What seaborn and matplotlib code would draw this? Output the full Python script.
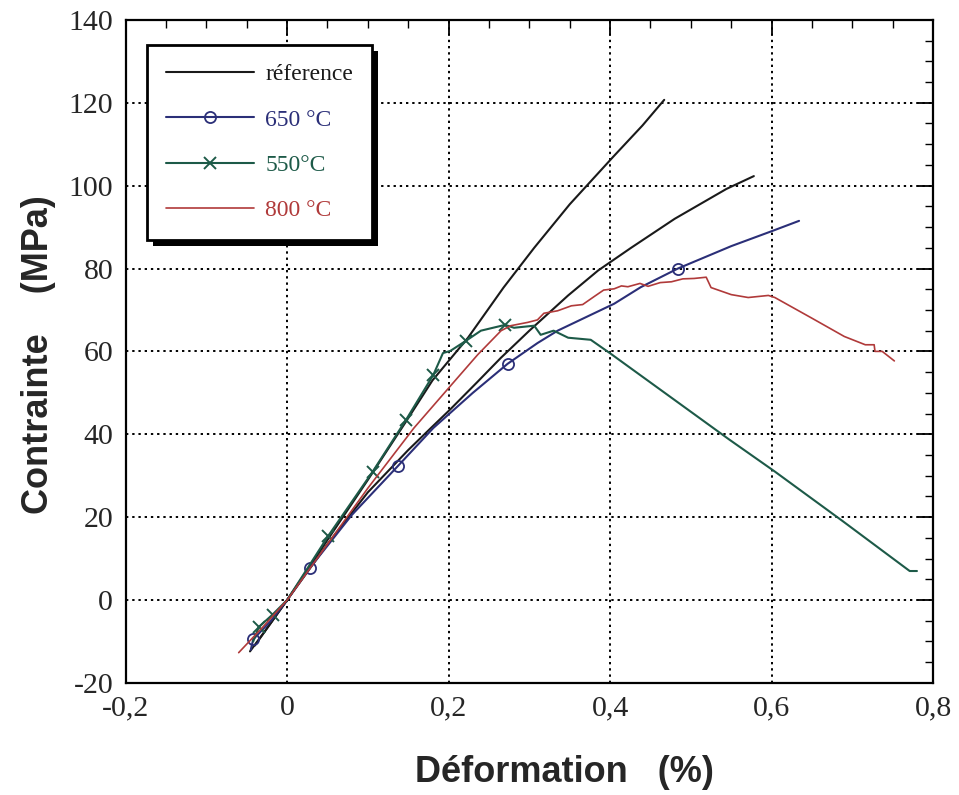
import numpy as np
import pandas as pd
import seaborn as sns
import matplotlib.pyplot as plt
from matplotlib.ticker import MultipleLocator, FuncFormatter
from matplotlib.patches import Rectangle

# ---- data (strain in %, stress in MPa)
ref1_x = [-0.04, -0.02, 0, 0.05, 0.1, 0.147, 0.18, 0.224, 0.268, 0.306, 0.35, 0.404, 0.44, 0.467]
ref1_y = [-11, -5.5, 0, 14.5, 29, 43, 53, 63.3, 75.4, 85, 95.5, 107, 114.5, 120.7]

ref2_x = [-0.046, -0.02, 0, 0.05, 0.1, 0.15, 0.178, 0.202, 0.235, 0.265, 0.3, 0.348, 0.385,
          0.426, 0.48, 0.544, 0.578]
ref2_y = [-12.4, -5.5, 0, 13.5, 26, 36.2, 41.5, 46, 52.5, 58.5, 65, 73.5, 79.5,
          85, 92, 99.2, 102.3]

t650_x = [-0.045, -0.042, -0.02, 0, 0.028, 0.08, 0.137, 0.181, 0.23, 0.273, 0.31, 0.335, 0.405,
          0.438, 0.484, 0.55, 0.60, 0.634]
t650_y = [-12, -9.5, -5, 0, 7.7, 20.5, 32.3, 41.5, 50, 57, 62, 65, 71.5,
          75.5, 80, 85.4, 89, 91.5]
t650_marks = [1, 4, 6, 9, 14]

t550_x = [-0.042, -0.035, -0.018, 0, 0.051, 0.106, 0.147, 0.181, 0.193, 0.202, 0.221, 0.24,
          0.27, 0.281, 0.306, 0.314, 0.33, 0.348, 0.376, 0.401, 0.547, 0.604, 0.689, 0.771, 0.78]
t550_y = [-10, -6.5, -3.5, 0, 15.5, 31, 43.4, 54.3, 59.6, 60.1, 62.5, 65,
          66.4, 65.7, 66.2, 64, 65, 63.3, 62.8, 59.4, 38.8, 31, 18.9, 7, 7]
t550_marks = [1, 2, 4, 5, 6, 7, 10, 12]

t800_x = [-0.06, -0.03, 0, 0.05, 0.1, 0.157, 0.202, 0.236, 0.265, 0.277, 0.298, 0.31, 0.318,
          0.335, 0.352, 0.366, 0.38, 0.392, 0.405, 0.414, 0.422, 0.437, 0.447, 0.462, 0.476,
          0.49, 0.504, 0.519, 0.525, 0.55, 0.571, 0.596, 0.604, 0.65, 0.69, 0.716, 0.727,
          0.728, 0.737, 0.752]
t800_y = [-12.7, -6.5, 0, 13.5, 27, 41.5, 51.6, 59.2, 65, 66.2, 67, 67.6, 69.2,
          69.8, 71, 71.3, 73.2, 74.8, 75.1, 75.8, 75.6, 76.4, 75.7, 76.6, 76.8,
          77.5, 77.6, 77.9, 75.4, 73.7, 73, 73.5, 73, 68, 63.6, 61.6, 61.6,
          60, 60, 57.7]

labels = ["réference", "650 °C", "550°C", "800 °C"]
c_black, c_blue, c_green, c_red = "#1a1a1a", "#2b2f78", "#1d5a48", "#b03a3a"

sns.set_style("white")
plt.rcParams["axes.unicode_minus"] = False
plt.rcParams["font.family"] = ["Liberation Serif", "DejaVu Serif"]

fig = plt.figure(figsize=(9.59, 7.95), dpi=100)
ax = fig.add_subplot(111)
fig.subplots_adjust(left=0.131, right=0.973, top=0.975, bottom=0.141)

sns.lineplot(x=ref1_x, y=ref1_y, sort=False, color=c_black, lw=1.5, label=labels[0], ax=ax)
sns.lineplot(x=ref2_x, y=ref2_y, sort=False, color=c_black, lw=1.5, ax=ax)
sns.lineplot(x=t650_x, y=t650_y, sort=False, color=c_blue, lw=1.5, label=labels[1],
             marker="o", markevery=t650_marks, markersize=8, markerfacecolor="none",
             markeredgecolor=c_blue, markeredgewidth=1.3, ax=ax)
sns.lineplot(x=t550_x, y=t550_y, sort=False, color=c_green, lw=1.5, label=labels[2],
             marker="x", markevery=t550_marks, markersize=9, markeredgecolor=c_green,
             markeredgewidth=1.4, ax=ax)
sns.lineplot(x=t800_x, y=t800_y, sort=False, color=c_red, lw=1.2, label=labels[3], ax=ax)

ax.set_xlim(-0.2, 0.8)
ax.set_ylim(-20, 140)
ax.xaxis.set_major_locator(MultipleLocator(0.2))
ax.xaxis.set_minor_locator(MultipleLocator(0.05))
ax.yaxis.set_major_locator(MultipleLocator(20))
ax.yaxis.set_minor_locator(MultipleLocator(5))
fmt = FuncFormatter(lambda v, p: ("%g" % round(v, 2)).replace(".", ","))
ax.xaxis.set_major_formatter(fmt)
ax.yaxis.set_major_formatter(fmt)

ax.tick_params(which="both", direction="in", top=True, right=True, color="black")
ax.tick_params(which="major", length=11, width=1.3, labelsize=21.5, pad=9)
ax.tick_params(which="minor", length=5.5, width=1.0)
ax.grid(True, which="major", color="black", linestyle=(0, (1.2, 2.0)), linewidth=1.4)
for s in ax.spines.values():
    s.set_color("black")
    s.set_linewidth(1.6)

ax.set_xlabel("Déformation   (%)", fontsize=26, fontweight="bold", family="Liberation Sans")
ax.set_ylabel("Contrainte    (MPa)", fontsize=26, fontweight="bold", family="Liberation Sans")
ax.xaxis.set_label_coords(0.544, -0.108)
ax.yaxis.set_label_coords(-0.086, 0.495)

leg = ax.legend(loc="upper left", bbox_to_anchor=(0.027, 0.962), borderaxespad=0,
                fontsize=17, handlelength=3.7, handletextpad=0.5, labelspacing=1.0,
                borderpad=0.8, fancybox=False, framealpha=1, edgecolor="black")
leg.get_frame().set_linewidth(2)
for t, c in zip(leg.get_texts(), [c_black, c_blue, c_green, c_red]):
    t.set_color(c)

# offset black shadow behind the legend box
fig.canvas.draw()
bb = leg.get_window_extent().transformed(ax.transAxes.inverted())
dx, dy = 6 / 807, 6 / 663
shadow = Rectangle((bb.x0 + dx, bb.y0 - dy), bb.width, bb.height, transform=ax.transAxes,
                   facecolor="black", edgecolor="none", zorder=4.9, clip_on=False)
ax.add_patch(shadow)

fig.savefig("out.png", dpi=100)
